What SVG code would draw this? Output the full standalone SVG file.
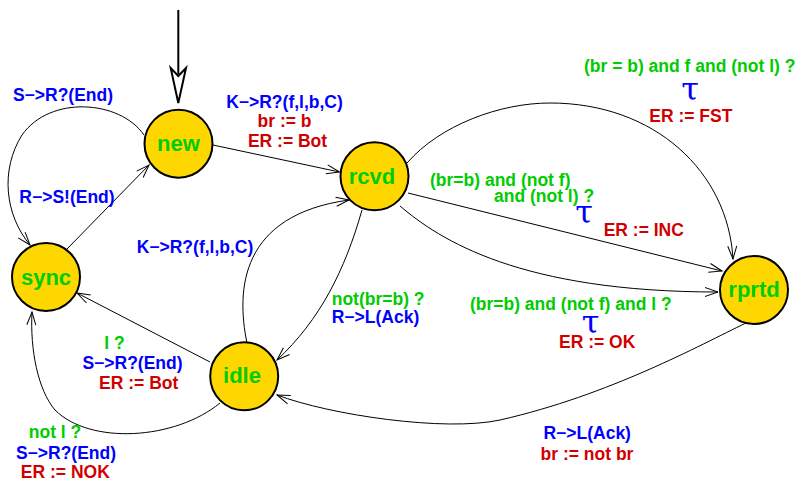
<svg xmlns="http://www.w3.org/2000/svg" width="800" height="485" viewBox="0 0 800 485">
<style>
.node circle{fill:#FFD700;stroke:#000;stroke-width:2}
.node text{font-family:"Liberation Sans",Arial,sans-serif;font-weight:bold;font-size:22px;fill:#00CC00;text-anchor:middle}
.edge{fill:none;stroke:#000;stroke-width:1;marker-end:url(#arr)}
.lbl{font-family:"Liberation Sans",Arial,sans-serif;font-weight:bold;font-size:17.5px;text-anchor:middle}
.st{text-anchor:start}
.g{fill:#00CC00}.b{fill:#0000FF}.r{fill:#D00000}
.tau{font-family:"DejaVu Serif",serif;font-weight:normal;font-size:32px;fill:#0000FF;text-anchor:middle}
</style>
<defs>
<marker id="arr" markerUnits="userSpaceOnUse" markerWidth="16" markerHeight="12" refX="13" refY="4.5" orient="auto" overflow="visible">
<path d="M0,0 L13,4.5 L0,9" fill="none" stroke="#000" stroke-width="1"/>
</marker>
</defs>
<rect width="800" height="485" fill="#fff"/>
<g id="connectors">
<g id="init">
<line x1="178.3" y1="10" x2="178.3" y2="74" stroke="#000" stroke-width="2"/>
<polygon points="170.7,68 178.3,103 186,68 178.3,76" fill="#fff" stroke="#000" stroke-width="2" stroke-linejoin="miter"/>
</g>
<path class="edge" d="M213,145 L339.5,172"/>
<path class="edge" d="M67,249 L149,165"/>
<path class="edge" d="M144,135 C120,100 50,95 22,135 C0,170 5,215 30,245"/>
<path class="edge" d="M210,362 L77,293"/>
<path class="edge" d="M220,403 C175,440 90,445 55,410 C38,390 30,350 32,312"/>
<path class="edge" d="M247,343 C236,290 240,215 349,200"/>
<path class="edge" d="M362,210 C345,270 320,320 277,360"/>
<path class="edge" d="M407,163 C440,125 500,103 550,103 C655,103 728,172 733,259"/>
<path class="edge" d="M408,193 L722,271"/>
<path class="edge" d="M400,206 C440,240 520,292 718,292"/>
<path class="edge" d="M746,323 C700,345 610,395 500,420 C445,432 330,415 277,395"/>
</g>
<g id="new" class="node"><circle cx="178.5" cy="143.7" r="34"/><text x="178.5" y="151">new</text></g>
<g id="rcvd" class="node"><circle cx="374.5" cy="176.3" r="34"/><text x="372" y="183.5">rcvd</text></g>
<g id="sync" class="node"><circle cx="46" cy="277" r="34"/><text x="46" y="284.5">sync</text></g>
<g id="idle" class="node"><circle cx="244.2" cy="376.3" r="34"/><text x="242" y="382.5">idle</text></g>
<g id="rprtd" class="node"><circle cx="754" cy="290" r="34"/><text x="754" y="297">rprtd</text></g>
<g id="labels">
<text class="lbl b" x="63" y="101">S−&gt;R?(End)</text>
<text class="lbl b" x="284.5" y="107.7">K−&gt;R?(f,l,b,C)</text>
<text class="lbl r" x="284.5" y="126.7">br := b</text>
<text class="lbl r" x="287.5" y="146.7">ER := Bot</text>
<text class="lbl b" x="67" y="203">R−&gt;S!(End)</text>
<text class="lbl b" x="195" y="253">K−&gt;R?(f,l,b,C)</text>
<text class="lbl st g" x="331.7" y="305">not(br=b) ?</text>
<text class="lbl st b" x="331.7" y="323">R−&gt;L(Ack)</text>
<text class="lbl g" x="114.5" y="349">l ?</text>
<text class="lbl b" x="132.5" y="369">S−&gt;R?(End)</text>
<text class="lbl r" x="138.7" y="389">ER := Bot</text>
<text class="lbl g" x="55" y="438">not l ?</text>
<text class="lbl b" x="66" y="459">S−&gt;R?(End)</text>
<text class="lbl r" x="65.3" y="478">ER := NOK</text>
<text class="lbl g" x="689.7" y="71.7">(br = b) and f and (not l) ?</text>
<text class="tau" x="690" y="100">τ</text>
<text class="lbl r" x="690.8" y="121.7">ER := FST</text>
<text class="lbl st g" x="430" y="186">(br=b) and (not f)</text>
<text class="lbl st g" x="494" y="202.3">and (not l) ?</text>
<text class="tau" x="584" y="223">τ</text>
<text class="lbl r" x="643.8" y="236">ER := INC</text>
<text class="lbl g" x="570.8" y="310">(br=b) and (not f) and l ?</text>
<text class="tau" x="590.5" y="333">τ</text>
<text class="lbl r" x="597.2" y="348.3">ER := OK</text>
<text class="lbl b" x="587.2" y="439.3">R−&gt;L(Ack)</text>
<text class="lbl r" x="587" y="460">br := not br</text>
</g>
</svg>
